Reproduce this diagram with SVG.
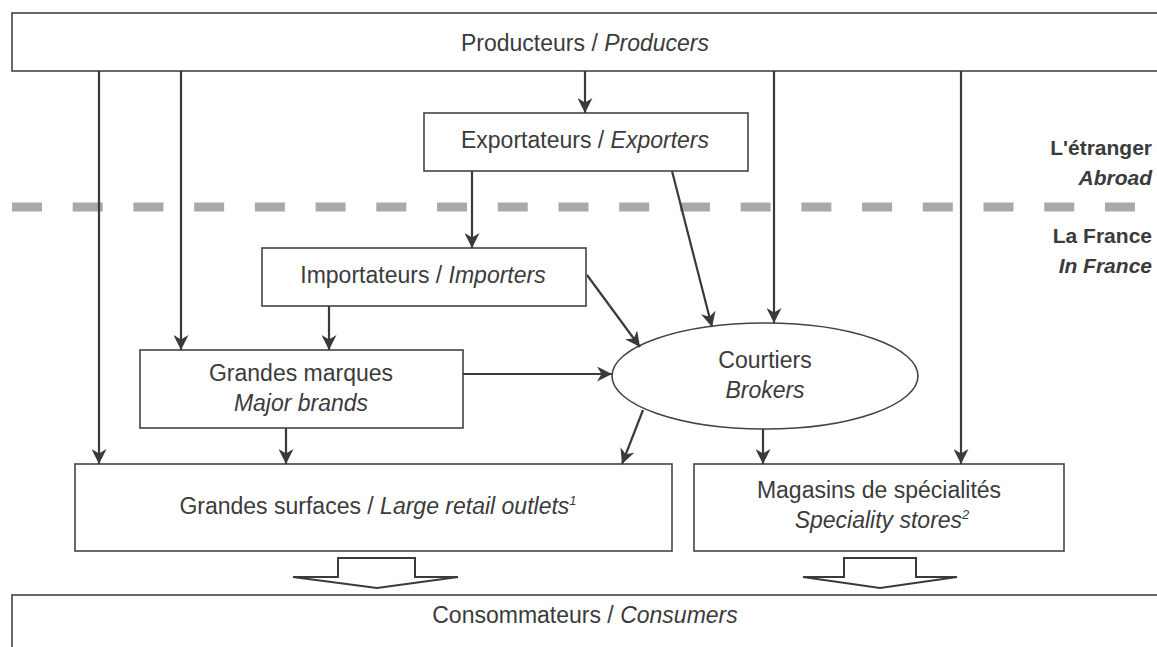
<svg xmlns="http://www.w3.org/2000/svg" width="1157" height="647" viewBox="0 0 1157 647">
<defs>
<marker id="ah" markerUnits="userSpaceOnUse" markerWidth="17" markerHeight="15" viewBox="0 0 17 15" refX="15" refY="7.5" orient="auto">
<path d="M0,0 L15,7.5 L0,15 L4.5,7.5 z" fill="#3a3a3a"/>
</marker>
<style>
.box{fill:#fff;stroke:#444;stroke-width:1.6}
.con{fill:none;stroke:#3a3a3a;stroke-width:2.2;marker-end:url(#ah)}
.t{font-family:"Liberation Sans",Arial,sans-serif;font-size:23px;fill:#3b3b3b;text-anchor:middle}
.i{font-style:italic}
.lab{font-family:"Liberation Sans",Arial,sans-serif;font-size:21px;font-weight:bold;fill:#3b3b3b;text-anchor:end}
.big{fill:#fff;stroke:#3a3a3a;stroke-width:2;stroke-linejoin:miter}
</style>
</defs>
<rect width="1157" height="647" fill="#fff"/>
<line x1="12" y1="207" x2="1135" y2="207" stroke="#a7a9ac" stroke-width="9" stroke-dasharray="30 30.72"/>
<g id="producers">
<rect class="box" x="12" y="13" width="1170" height="58"/>
<text class="t" x="585" y="51">Producteurs / <tspan class="i">Producers</tspan></text>
</g>
<g id="exporters">
<rect class="box" x="424" y="113" width="324" height="58"/>
<text class="t" x="585" y="148">Exportateurs / <tspan class="i">Exporters</tspan></text>
</g>
<g id="importers">
<rect class="box" x="262" y="248" width="324" height="58"/>
<text class="t" x="423" y="283">Importateurs / <tspan class="i">Importers</tspan></text>
</g>
<g id="brands">
<rect class="box" x="140" y="350" width="323" height="78"/>
<text class="t" x="301" y="381">Grandes marques</text>
<text class="t i" x="301" y="411">Major brands</text>
</g>
<g id="brokers">
<ellipse class="box" cx="765" cy="376" rx="153" ry="53"/>
<text class="t" x="765" y="368">Courtiers</text>
<text class="t i" x="765" y="398">Brokers</text>
</g>
<g id="retail">
<rect class="box" x="75" y="464" width="597" height="87"/>
<text class="t" x="378" y="514">Grandes surfaces / <tspan class="i">Large retail outlets</tspan><tspan class="i" font-size="13" dy="-9">1</tspan></text>
</g>
<g id="speciality">
<rect class="box" x="694" y="464" width="370" height="87"/>
<text class="t" x="879" y="498">Magasins de spécialités</text>
<text class="t i" x="882" y="528">Speciality stores<tspan font-size="13" dy="-9">2</tspan></text>
</g>
<g id="consumers">
<rect class="box" x="12" y="595" width="1170" height="70"/>
<text class="t" x="585" y="623">Consommateurs / <tspan class="i">Consumers</tspan></text>
</g>
<g id="region-labels">
<text class="lab" x="1152" y="155">L'étranger</text>
<text class="lab i" x="1152" y="185">Abroad</text>
<text class="lab" x="1152" y="243">La France</text>
<text class="lab i" x="1152" y="273">In France</text>
</g>
<g id="connectors">
<line class="con" x1="99" y1="71" x2="99" y2="464"/>
<line class="con" x1="181" y1="71" x2="181" y2="350"/>
<line class="con" x1="585" y1="71" x2="585" y2="113"/>
<line class="con" x1="774" y1="71" x2="774" y2="323"/>
<line class="con" x1="961" y1="71" x2="961" y2="464"/>
<line class="con" x1="472" y1="171" x2="472" y2="248"/>
<line class="con" x1="672" y1="171" x2="712" y2="327"/>
<line class="con" x1="587" y1="275" x2="640" y2="347"/>
<line class="con" x1="329" y1="306" x2="329" y2="350"/>
<line class="con" x1="463" y1="374" x2="612" y2="374"/>
<line class="con" x1="286" y1="428" x2="286" y2="464"/>
<line class="con" x1="643" y1="410" x2="622" y2="464"/>
<line class="con" x1="763" y1="429" x2="763" y2="464"/>
<polygon class="big" points="338,558 415,558 415,577 458,577 377,588 293,577 338,577"/>
<polygon class="big" points="844,558 916,558 916,577 957,577 880,588 803,577 844,577"/>
</g>
</svg>
